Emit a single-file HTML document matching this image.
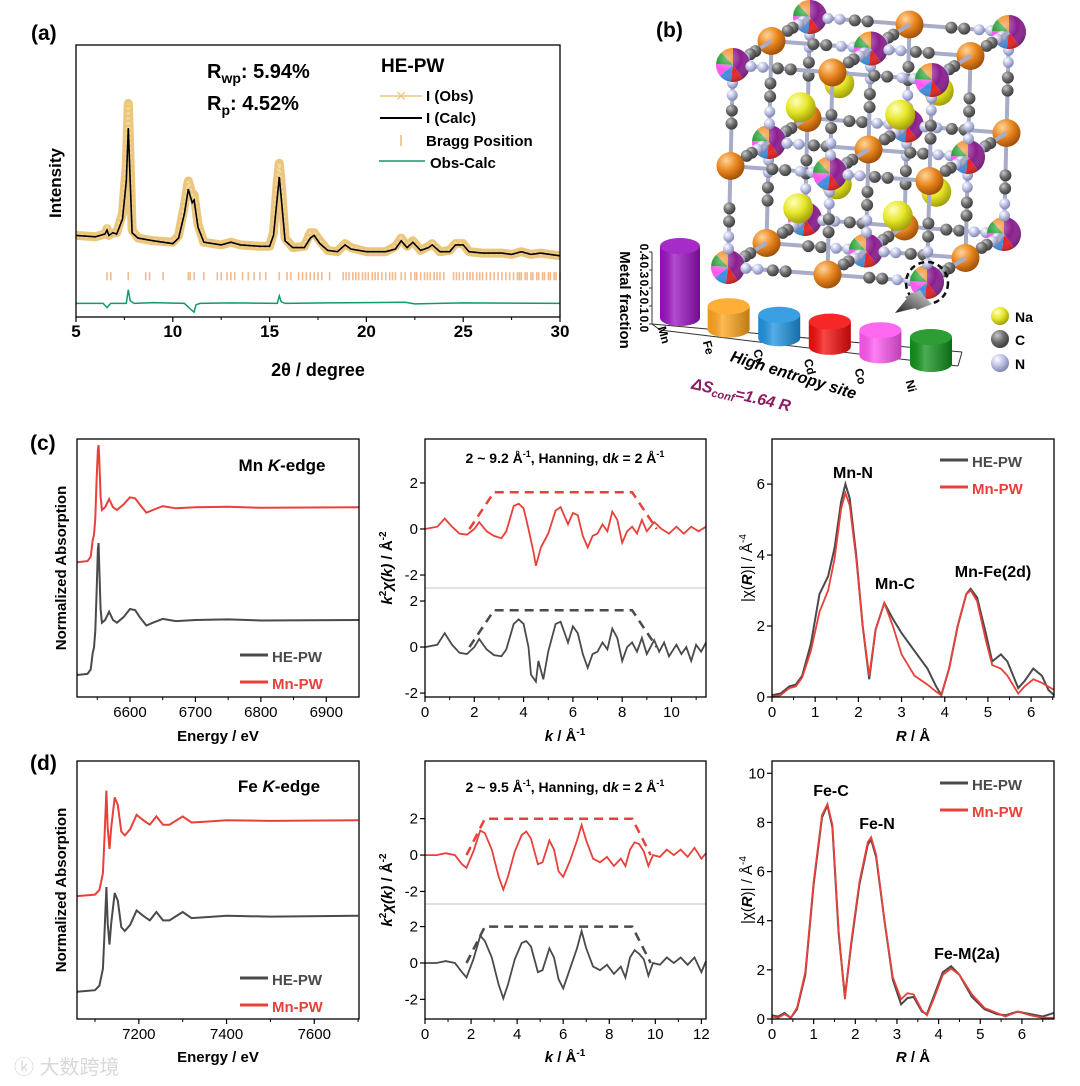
<!DOCTYPE html>
<html><head><meta charset="utf-8">
<style>
html,body{margin:0;padding:0;background:#fff;}
svg{display:block;font-family:"Liberation Sans","Noto Sans CJK SC",sans-serif;}
.b{font-weight:bold;}
.tk{font-size:15px;font-family:"Liberation Sans Narrow","Liberation Sans",sans-serif;}
</style></head>
<body>
<svg id="fig" width="1080" height="1086" viewBox="0 0 1080 1086" xmlns="http://www.w3.org/2000/svg">
<defs>
<radialGradient id="gPurple" cx="0.35" cy="0.3" r="0.75"><stop offset="0" stop-color="#d77be0"/><stop offset="0.5" stop-color="#8a1e8e"/><stop offset="1" stop-color="#4c0a50"/></radialGradient>
<radialGradient id="gOrange" cx="0.35" cy="0.3" r="0.75"><stop offset="0" stop-color="#ffd49a"/><stop offset="0.5" stop-color="#e8861e"/><stop offset="1" stop-color="#9a4c06"/></radialGradient>
<radialGradient id="gYellow" cx="0.35" cy="0.3" r="0.75"><stop offset="0" stop-color="#ffffc0"/><stop offset="0.5" stop-color="#e6e628"/><stop offset="1" stop-color="#9a9a08"/></radialGradient>
<radialGradient id="gGray" cx="0.35" cy="0.3" r="0.75"><stop offset="0" stop-color="#c8c8c8"/><stop offset="0.5" stop-color="#6e6e6e"/><stop offset="1" stop-color="#383838"/></radialGradient>
<radialGradient id="gBlue" cx="0.35" cy="0.3" r="0.75"><stop offset="0" stop-color="#ffffff"/><stop offset="0.5" stop-color="#bcc0e4"/><stop offset="1" stop-color="#7a80a8"/></radialGradient>
<radialGradient id="gShade" cx="0.35" cy="0.3" r="0.8"><stop offset="0" stop-color="#fff" stop-opacity="0.45"/><stop offset="0.5" stop-color="#fff" stop-opacity="0"/><stop offset="1" stop-color="#000" stop-opacity="0.35"/></radialGradient>
<linearGradient id="gArrow" x1="1" y1="0" x2="0" y2="1"><stop offset="0" stop-color="#e0e0e0"/><stop offset="1" stop-color="#222"/></linearGradient>
<linearGradient id="cylShade" x1="0" y1="0" x2="1" y2="0"><stop offset="0" stop-color="#000" stop-opacity="0.05"/><stop offset="0.35" stop-color="#fff" stop-opacity="0.25"/><stop offset="1" stop-color="#000" stop-opacity="0.25"/></linearGradient>
</defs>

<text x="31" y="40" class="b" font-size="21">(a)</text>
<text x="207" y="78" class="b" font-size="20">R<tspan font-size="14" dy="5">wp</tspan><tspan dy="-5">: 5.94%</tspan></text>
<text x="207" y="110" class="b" font-size="20">R<tspan font-size="14" dy="5">p</tspan><tspan dy="-5">: 4.52%</tspan></text>
<text x="381" y="72" class="b" font-size="19">HE-PW</text>
<text x="426" y="101" class="b" font-size="15">I (Obs)</text>
<text x="426" y="123" class="b" font-size="15">I (Calc)</text>
<text x="426" y="146" class="b" font-size="15">Bragg Position</text>
<text x="430" y="168" class="b" font-size="15">Obs-Calc</text>
<text transform="translate(61,183) rotate(-90)" text-anchor="middle" class="b" font-size="17">Intensity</text>
<text x="318" y="376" text-anchor="middle" class="b" font-size="18">2θ / degree</text>

<text x="656" y="37" class="b" font-size="21">(b)</text>
<text x="1015" y="322" class="b" font-size="14">Na</text>
<text x="1015" y="345" class="b" font-size="14">C</text>
<text x="1015" y="369" class="b" font-size="14">N</text>
<text transform="translate(620,300) rotate(90)" text-anchor="middle" class="b" font-size="15">Metal fraction</text>
<text transform="translate(792,380) rotate(17)" text-anchor="middle" class="b" font-size="16" font-style="italic">High entropy site</text>
<text transform="translate(740,400) rotate(13)" text-anchor="middle" class="b" font-size="16" font-style="italic" fill="#8c1a62">ΔS<tspan font-size="11" dy="3">conf</tspan><tspan dy="-3">=1.64 R</tspan></text>

<text x="30" y="450" class="b" font-size="21">(c)</text>
<text x="30" y="770" class="b" font-size="21">(d)</text>
<text x="282" y="471" text-anchor="middle" class="b" font-size="17">Mn <tspan font-style="italic">K</tspan>-edge</text>
<text x="279" y="792" text-anchor="middle" class="b" font-size="17">Fe <tspan font-style="italic">K</tspan>-edge</text>
<text x="565" y="463" text-anchor="middle" class="b" font-size="14">2 ~ 9.2 Å<tspan font-size="9" dy="-6">-1</tspan><tspan dy="6">, Hanning, d</tspan><tspan font-style="italic">k</tspan> = 2 Å<tspan font-size="9" dy="-6">-1</tspan></text>
<text x="565" y="792" text-anchor="middle" class="b" font-size="14">2 ~ 9.5 Å<tspan font-size="9" dy="-6">-1</tspan><tspan dy="6">, Hanning, d</tspan><tspan font-style="italic">k</tspan> = 2 Å<tspan font-size="9" dy="-6">-1</tspan></text>
<text transform="translate(66,568) rotate(-90)" text-anchor="middle" class="b" font-size="15">Normalized Absorption</text>
<text transform="translate(66,890) rotate(-90)" text-anchor="middle" class="b" font-size="15">Normalized Absorption</text>
<text transform="translate(392,568) rotate(-90)" text-anchor="middle" class="b" font-size="15"><tspan font-style="italic">k</tspan><tspan font-size="10" dy="-6">2</tspan><tspan dy="6" font-style="italic">χ(k)</tspan> / Å<tspan font-size="10" dy="-6">-2</tspan></text>
<text transform="translate(392,890) rotate(-90)" text-anchor="middle" class="b" font-size="15"><tspan font-style="italic">k</tspan><tspan font-size="10" dy="-6">2</tspan><tspan dy="6" font-style="italic">χ(k)</tspan> / Å<tspan font-size="10" dy="-6">-2</tspan></text>
<text transform="translate(752,568) rotate(-90)" text-anchor="middle" font-size="15">|χ(<tspan font-style="italic" font-weight="bold">R</tspan>)| / Å<tspan font-size="10" dy="-6">-4</tspan></text>
<text transform="translate(752,890) rotate(-90)" text-anchor="middle" font-size="15">|χ(<tspan font-style="italic" font-weight="bold">R</tspan>)| / Å<tspan font-size="10" dy="-6">-4</tspan></text>
<text x="218" y="741" text-anchor="middle" class="b tk">Energy / eV</text>
<text x="218" y="1062" text-anchor="middle" class="b tk">Energy / eV</text>
<text x="565" y="741" text-anchor="middle" class="b tk"><tspan font-style="italic">k</tspan> / Å<tspan font-size="10" dy="-6">-1</tspan></text>
<text x="565" y="1062" text-anchor="middle" class="b tk"><tspan font-style="italic">k</tspan> / Å<tspan font-size="10" dy="-6">-1</tspan></text>
<text x="913" y="741" text-anchor="middle" class="b tk"><tspan font-style="italic">R</tspan> / Å</text>
<text x="913" y="1062" text-anchor="middle" class="b tk"><tspan font-style="italic">R</tspan> / Å</text>
<text x="853" y="478" text-anchor="middle" class="b" font-size="16">Mn-N</text>
<text x="895" y="589" text-anchor="middle" class="b" font-size="16">Mn-C</text>
<text x="993" y="577" text-anchor="middle" class="b" font-size="16">Mn-Fe(2d)</text>
<text x="831" y="796" text-anchor="middle" class="b" font-size="16">Fe-C</text>
<text x="877" y="829" text-anchor="middle" class="b" font-size="16">Fe-N</text>
<text x="967" y="959" text-anchor="middle" class="b" font-size="16">Fe-M(2a)</text>
<text x="14" y="1074" font-size="20" fill="#d8d8d8">ⓚ 大数跨境</text>
</svg>
<script>
const xrdCalc=[[5,30],[6,29.5],[6.5,30.5],[6.6,32],[6.7,30],[6.9,31],[7.1,30.5],[7.4,36],[7.6,50],[7.7,69.5],[7.8,50],[7.9,31],[8.2,29],[9,28],[10,27],[10.3,29],[10.6,38],[10.8,47],[11.0,42],[11.1,43],[11.3,33],[11.6,27.5],[12.5,26.5],[13,27.5],[13.5,26.5],[14.5,26],[15,26],[15.2,30],[15.4,44],[15.5,51.5],[15.6,44],[15.8,28],[16.2,25.5],[16.8,25.5],[17.1,29],[17.3,30],[17.6,27],[18,24.5],[18.5,24],[18.9,26.5],[19.2,25],[20,24],[21,24],[21.5,25],[21.8,28],[22.1,25.5],[22.4,27.5],[22.8,24.5],[23.2,25.5],[23.4,26.5],[23.8,24],[24.3,24],[24.6,26.5],[25,26.5],[25.3,24],[26,23.5],[27,23.5],[27.5,23],[28,24],[28.5,23],[29,23.5],[30,22.5]];
const xrdObs=[[5,30],[6,29.5],[6.5,30.5],[6.6,32.5],[6.7,30],[6.9,31],[7.1,31],[7.4,38],[7.6,56],[7.7,78.5],[7.8,56],[7.9,32],[8.2,29],[9,28],[10,27.5],[10.3,30],[10.6,41],[10.8,50],[11.0,45],[11.1,45],[11.3,34],[11.6,27.5],[12.5,26.5],[13,27.5],[13.5,26.5],[14.5,26],[15,26],[15.2,31],[15.4,50],[15.5,56.5],[15.6,49],[15.8,29],[16.2,25.5],[16.8,26],[17.1,31],[17.3,31],[17.6,28],[18,24.5],[18.5,24],[18.9,27],[19.2,25.5],[20,24],[21,24],[21.5,26],[21.8,29],[22.1,26],[22.4,28],[22.8,24.5],[23.2,26],[23.4,27],[23.8,24],[24.3,24.5],[24.6,27],[25,27],[25.3,24],[26,23.5],[27,23.5],[27.5,23],[28,24],[28.5,23],[29,23.5],[30,22.5]];
const xrdDiff=[[5,5],[6.4,5],[6.6,3.5],[6.8,5],[7.6,5],[7.7,10],[7.8,6],[8,5],[9,5.3],[10.6,5],[10.9,3],[11.1,1.8],[11.2,4.5],[11.4,5],[13,5.2],[15.4,5],[15.5,7.8],[15.6,5.6],[15.8,5],[18,5.2],[22,5.4],[22.5,4.8],[25,5.2],[30,5]];
const braggPos=[6.6,6.8,7.7,8.6,8.8,9.5,10.8,10.9,11.1,11.6,12.3,12.5,12.8,13.0,13.2,13.6,13.9,14.2,14.5,14.8,15.5,15.9,16.1,16.5,16.7,16.9,17.1,17.3,17.5,17.7,18.1,18.8,18.95,19.1,19.3,19.45,19.6,19.8,19.95,20.1,20.3,20.45,20.6,20.8,21.0,21.2,21.35,21.5,21.8,22.0,22.3,22.5,22.6,22.8,23.0,23.15,23.3,23.5,23.65,23.8,24.0,24.5,24.65,24.8,25.0,25.2,25.35,25.5,25.7,25.85,26.0,26.2,26.4,26.6,26.8,27.0,27.2,27.4,27.6,27.8,27.9,28.0,28.2,28.3,28.5,28.6,28.8,28.9,29.1,29.2,29.4,29.5,29.7,29.8,30.0];
const xrdTicks=[5,10,15,20,25,30];

const mnEdgeHE=[[6519,0],[6535,0.02],[6540,0.1],[6543,0.4],[6545,0.5],[6547,0.8],[6549,1.5],[6551,2.3],[6552,2.4],[6553,2.0],[6555,1.2],[6557,0.95],[6562,1.0],[6568,1.15],[6574,1.0],[6580,0.95],[6590,1.05],[6600,1.2],[6608,1.18],[6615,1.05],[6625,0.9],[6635,0.95],[6650,1.02],[6670,0.98],[6700,1.0],[6750,1.01],[6800,0.99],[6950,1.0]];
const mnEdgeMn=[[6519,0],[6535,0.02],[6540,0.1],[6543,0.4],[6545,0.5],[6547,0.8],[6549,1.5],[6551,2.05],[6552,2.13],[6553,1.9],[6555,1.2],[6557,0.95],[6562,1.0],[6568,1.15],[6574,1.0],[6580,0.95],[6590,1.05],[6600,1.18],[6608,1.16],[6615,1.05],[6625,0.9],[6635,0.95],[6650,1.02],[6670,0.98],[6700,1.0],[6750,1.01],[6800,0.99],[6950,1.0]];
const mnEdgeOffsets=[0,2.05];
const mnEdgeTicks=[6600,6700,6800,6900];
const feEdgeHE=[[7059,0],[7100,0.02],[7110,0.08],[7118,0.3],[7122,0.8],[7126,1.38],[7129,0.9],[7133,0.62],[7137,0.9],[7145,1.3],[7152,1.2],[7160,0.85],[7168,0.8],[7180,0.88],[7195,1.07],[7210,1.0],[7225,0.94],[7240,1.05],[7255,0.94],[7270,0.94],[7300,1.05],[7320,0.97],[7350,0.98],[7400,1.0],[7500,0.99],[7700,1.0]];
const feEdgeMn=[[7059,0],[7100,0.02],[7110,0.08],[7118,0.3],[7122,0.8],[7126,1.39],[7129,0.9],[7133,0.62],[7137,0.9],[7145,1.3],[7152,1.2],[7160,0.85],[7168,0.8],[7180,0.88],[7195,1.07],[7210,1.0],[7225,0.94],[7240,1.05],[7255,0.94],[7270,0.94],[7300,1.05],[7320,0.97],[7350,0.98],[7400,1.0],[7500,0.99],[7700,1.0]];
const feEdgeOffsets=[0,1.26];
const feEdgeTicks=[7200,7400,7600];

const chiMnHE=[[0,0],[0.5,0.1],[0.8,0.6],[1.1,0.1],[1.4,-0.25],[1.7,-0.3],[2.0,0.0],[2.2,0.35],[2.5,-0.1],[2.8,-0.35],[3.1,-0.4],[3.3,-0.1],[3.6,1.0],[3.8,1.2],[4.0,1.0],[4.2,0.0],[4.3,-1.2],[4.5,-1.5],[4.6,-0.6],[4.8,-1.4],[5.0,-0.2],[5.3,1.0],[5.5,1.1],[5.8,0.2],[6.0,0.9],[6.2,0.6],[6.4,-0.3],[6.6,-0.9],[6.8,-0.3],[7.0,-0.2],[7.2,0.2],[7.4,-0.1],[7.6,0.8],[7.8,0.4],[8.0,-0.6],[8.2,0.0],[8.4,0.2],[8.6,-0.2],[8.8,0.4],[9.0,-0.3],[9.3,0.3],[9.5,-0.2],[9.7,0.2],[9.9,-0.4],[10.2,0.1],[10.4,-0.3],[10.6,0.0],[10.8,-0.6],[11.0,0.1],[11.2,-0.2],[11.4,0.2]];
const chiMnMn=[[0,0],[0.5,0.1],[0.8,0.45],[1.1,0.1],[1.4,-0.2],[1.7,-0.25],[2.0,0.0],[2.2,0.3],[2.5,-0.1],[2.8,-0.3],[3.1,-0.4],[3.3,-0.1],[3.6,1.0],[3.8,1.1],[4.0,0.9],[4.2,0.0],[4.4,-1.0],[4.5,-1.6],[4.7,-0.8],[5.0,-0.2],[5.3,0.8],[5.5,0.95],[5.8,0.2],[6.0,0.7],[6.2,0.6],[6.4,-0.3],[6.6,-0.8],[6.8,-0.3],[7.0,-0.2],[7.2,0.2],[7.4,-0.1],[7.6,0.75],[7.8,0.4],[8.0,-0.6],[8.2,-0.1],[8.4,0.1],[8.6,-0.2],[8.8,0.4],[9.0,-0.1],[9.3,0.3],[9.6,0.0],[9.9,-0.2],[10.2,0.1],[10.5,-0.2],[10.8,0.1],[11.1,-0.1],[11.4,0.1]];
const chiMnOffsets=[0,5.13];
const chiMnWindow=[[1.8,0],[2.8,1.6],[8.4,1.6],[9.4,0]];
const chiFeHE=[[0,0],[0.5,0.0],[0.9,0.1],[1.3,0.0],[1.6,-0.5],[1.8,-0.8],[2.1,0.2],[2.4,1.5],[2.6,1.2],[2.9,0.3],[3.2,-1.2],[3.4,-1.95],[3.6,-1.2],[3.9,0.2],[4.2,1.1],[4.4,1.2],[4.6,0.9],[4.9,-0.5],[5.1,-0.4],[5.4,0.8],[5.6,0.3],[5.8,-0.9],[6.0,-1.4],[6.3,-0.3],[6.6,0.8],[6.8,1.75],[7.0,0.8],[7.3,-0.2],[7.6,-0.4],[7.9,-0.1],[8.2,-0.6],[8.5,-0.2],[8.7,-0.8],[8.9,0.3],[9.1,0.7],[9.3,0.5],[9.5,0.2],[9.7,-0.7],[9.9,0.0],[10.2,-0.1],[10.5,0.3],[10.8,0.0],[11.1,0.3],[11.4,-0.1],[11.7,0.3],[12.0,-0.5],[12.2,0.1]];
const chiFeMn=[[0,0],[0.5,0.0],[0.9,0.1],[1.3,0.0],[1.6,-0.5],[1.8,-0.7],[2.1,0.2],[2.4,1.35],[2.6,1.2],[2.9,0.3],[3.2,-1.2],[3.4,-1.9],[3.6,-1.2],[3.9,0.2],[4.2,1.1],[4.4,1.3],[4.6,0.9],[4.9,-0.5],[5.1,-0.4],[5.4,0.8],[5.6,0.3],[5.8,-0.9],[6.0,-1.2],[6.3,-0.3],[6.6,0.8],[6.8,1.65],[7.0,0.8],[7.3,-0.2],[7.6,-0.4],[7.9,-0.1],[8.2,-0.6],[8.5,-0.2],[8.7,-0.6],[8.9,0.3],[9.1,0.7],[9.3,0.6],[9.5,0.2],[9.7,-0.6],[9.9,0.0],[10.2,-0.1],[10.5,0.3],[10.8,0.0],[11.1,0.3],[11.4,-0.1],[11.7,0.4],[12.0,-0.2],[12.2,0.1]];
const chiFeOffsets=[0,5.93];
const chiFeWindow=[[1.8,0],[2.6,2.0],[9.0,2.0],[9.8,0]];
const chiTicksY=[-2,0,2];

const ftMnHE=[[0,0.05],[0.2,0.1],[0.4,0.3],[0.55,0.35],[0.7,0.6],[0.9,1.5],[1.1,2.9],[1.3,3.4],[1.45,4.2],[1.6,5.5],[1.7,6.0],[1.8,5.6],[1.95,4.0],[2.1,2.0],[2.25,0.5],[2.4,1.9],[2.6,2.65],[2.8,2.2],[3.0,1.8],[3.3,1.3],[3.6,0.8],[3.8,0.3],[3.92,0.05],[4.1,0.8],[4.3,2.0],[4.5,2.9],[4.6,3.05],[4.75,2.8],[4.95,1.8],[5.1,1.0],[5.3,1.2],[5.45,1.0],[5.7,0.25],[5.85,0.45],[6.05,0.8],[6.25,0.6],[6.4,0.2],[6.53,0.05]];
const ftMnMn=[[0,0.0],[0.2,0.05],[0.4,0.25],[0.55,0.3],[0.7,0.55],[0.9,1.3],[1.1,2.4],[1.3,3.0],[1.45,3.9],[1.6,5.3],[1.7,5.75],[1.8,5.4],[1.95,3.9],[2.1,2.0],[2.25,0.6],[2.4,1.9],[2.6,2.65],[2.8,2.0],[3.0,1.2],[3.3,0.6],[3.6,0.35],[3.8,0.15],[3.92,0.05],[4.1,0.8],[4.3,2.0],[4.5,2.9],[4.6,3.0],[4.75,2.7],[4.95,1.6],[5.1,0.9],[5.3,0.8],[5.45,0.6],[5.7,0.1],[5.85,0.3],[6.05,0.5],[6.25,0.4],[6.53,0.2]];
const ftFeHE=[[0,0.15],[0.15,0.1],[0.3,0.25],[0.45,0.05],[0.6,0.4],[0.8,1.8],[1.0,5.5],[1.2,8.2],[1.33,8.7],[1.45,7.8],[1.6,3.5],[1.75,0.9],[1.9,3.0],[2.1,5.5],[2.3,7.1],[2.38,7.3],[2.5,6.6],[2.7,4.0],[2.9,1.6],[3.1,0.6],[3.25,0.85],[3.4,0.9],[3.6,0.3],[3.72,0.2],[3.9,1.0],[4.1,1.9],[4.3,2.15],[4.5,1.8],[4.8,0.9],[5.1,0.4],[5.4,0.2],[5.6,0.15],[5.9,0.3],[6.2,0.2],[6.5,0.1],[6.77,0.25]];
const ftFeMn=[[0,0.1],[0.15,0.05],[0.3,0.2],[0.45,0.05],[0.6,0.45],[0.8,1.9],[1.0,5.6],[1.2,8.3],[1.33,8.75],[1.45,7.9],[1.6,3.6],[1.75,0.8],[1.9,3.1],[2.1,5.6],[2.3,7.2],[2.38,7.4],[2.5,6.7],[2.7,4.0],[2.9,1.7],[3.1,0.8],[3.25,1.05],[3.4,1.0],[3.6,0.35],[3.72,0.15],[3.9,0.9],[4.1,1.8],[4.3,2.05],[4.5,1.8],[4.8,1.0],[5.1,0.45],[5.4,0.25],[5.6,0.1],[5.9,0.3],[6.2,0.15],[6.5,0.05],[6.77,0.05]];

const metalNames=['Mn','Fe','Cu','Cd','Co','Ni'];
const metalFractions=[0.40,0.13,0.13,0.14,0.14,0.15];
const metalColors=['#9a0fc0','#ffa41a','#1e93e0','#f50a0a','#ff55f0','#11911a'];
const fractionTicks=[0.0,0.1,0.2,0.3,0.4];

const NS='http://www.w3.org/2000/svg';
const svg=document.getElementById('fig');
function mk(tag,attrs,parent){const e=document.createElementNS(NS,tag);for(const k in attrs)e.setAttribute(k,attrs[k]);(parent||svg).appendChild(e);return e;}
function lin(d0,d1,r0,r1){return v=>r0+(v-d0)/(d1-d0)*(r1-r0);}
function pathOf(data,sx,sy,off){return data.map((p,i)=>(i?'L':'M')+sx(p[0]).toFixed(1)+','+sy(p[1]+(off||0)).toFixed(1)).join('');}
function frame(x0,y0,x1,y1){return mk('rect',{x:x0,y:y0,width:x1-x0,height:y1-y0,fill:'none',stroke:'#000','stroke-width':1.3});}
function xTicks(vals,minor,sx,ybot,fs,bold){
  const g=mk('g',{});
  
  
  vals.forEach(v=>{mk('line',{x1:sx(v),x2:sx(v),y1:ybot,y2:ybot+5,stroke:'#000','stroke-width':1.2},g);
    const t=mk('text',{x:sx(v),y:ybot+20,'text-anchor':'middle','font-size':fs,'font-weight':bold?'bold':'normal'},g);t.textContent=v;
    });
  minor.forEach(v=>mk('line',{x1:sx(v),x2:sx(v),y1:ybot,y2:ybot+3,stroke:'#000','stroke-width':1},g));
  return g;}
function yTicks(vals,labels,sy,xl,fs){
  const g=mk('g',{});
  
  
  vals.forEach((v,i)=>{mk('line',{x1:xl-5,x2:xl,y1:sy(v),y2:sy(v),stroke:'#000','stroke-width':1.2},g);
    const t=mk('text',{x:xl-7,y:sy(v)+5,'text-anchor':'end','font-size':fs},g);t.textContent=labels[i];
    });
  return g;}

(function(){
  const sx=lin(5,30,76,560), sy=lin(0,100,317,45);
  const obs=mk('path',{d:pathOf(xrdObs,sx,sy),fill:'none',stroke:'#ebc67c','stroke-width':9,'stroke-linejoin':'round'});
  
  const obs2=mk('path',{d:pathOf(xrdObs,sx,sy),fill:'none',stroke:'#f3dca6','stroke-width':3,'stroke-dasharray':'2 3'});
  
  const calc=mk('path',{d:pathOf(xrdCalc,sx,sy),fill:'none',stroke:'#000','stroke-width':1.6});
  
  const bg=mk('g',{});
  
  braggPos.forEach(b=>{const l=mk('line',{x1:sx(b),x2:sx(b),y1:sy(16.5),y2:sy(13.5),stroke:'#f2b98c','stroke-width':1.6},bg);
    });
  const df=mk('path',{d:pathOf(xrdDiff,sx,sy),fill:'none',stroke:'#129a6a','stroke-width':1.5});
  
  const f=frame(76,45,560,317);
  
  xTicks(xrdTicks,[7.5,12.5,17.5,22.5,27.5],sx,317,17,true);
  const l1=mk('line',{x1:380,x2:422,y1:96,y2:96,stroke:'#ebc67c','stroke-width':1.5});
  
  const m1=mk('text',{x:401,y:102,'text-anchor':'middle','font-size':18,fill:'#ebc67c'});m1.textContent='×';
  
  const l2=mk('line',{x1:380,x2:422,y1:118,y2:118,stroke:'#000','stroke-width':2});
  
  const l3=mk('line',{x1:401,x2:401,y1:135,y2:146,stroke:'#f2b98c','stroke-width':1.6});
  
  const l4=mk('line',{x1:379,x2:425,y1:161,y2:161,stroke:'#129a6a','stroke-width':1.6});
  
})();

(function(){
  const g=mk('g',{});
  
  
  const P=(i,j,k)=>[728+99.5*i+2.5*j+38.5*k, 267+7.5*i-101*j-24*k];
  const items=[];
  const isHE=(i,j,k)=>(i+j+k)%2===0;
  for(let i=0;i<3;i++)for(let j=0;j<3;j++)for(let k=0;k<3;k++){
    items.push({t:isHE(i,j,k)?'he':'fe',p:[i,j,k]});
    [[1,0,0],[0,1,0],[0,0,1]].forEach(d=>{const a=[i+d[0],j+d[1],k+d[2]]; if(a[0]>2||a[1]>2||a[2]>2)return;
      const he0=isHE(i,j,k); items.push({t:'bond',p:[i,j,k],q:a});
      const fN=he0?0.3:0.7, fC1=he0?0.45:0.55, fC2=he0?0.58:0.42;
      [['n',fN],['c',fC1],['c',fC2],['n',he0?0.18:0.82]].forEach(s=>items.push({t:s[0],p:[i+d[0]*s[1],j+d[1]*s[1],k+d[2]*s[1]]}));
    });
  }
  for(let i=0;i<2;i++)for(let j=0;j<2;j++)for(let k=0;k<2;k++) items.push({t:'na',p:[i+0.5,j+0.5,k+0.5]});
  const depth=it=>{const p=it.q?[(it.p[0]+it.q[0])/2,(it.p[1]+it.q[1])/2,(it.p[2]+it.q[2])/2]:it.p; return p[2]*2 - p[0]*0.3 + (it.t==='bond'?0.5:0);};
  items.sort((a,b)=>depth(b)-depth(a));
  const pieCols=['#8a1e8e','#e82020','#3a8ee0','#ff55f0','#1a9a2a','#f08a20'];
  const pieFr=[0.40,0.12,0.12,0.12,0.12,0.12];
  items.forEach(it=>{
    const [x,y]=P(...it.p);
    if(it.t==='bond'){const [x2,y2]=P(...it.q);
      const b=mk('line',{x1:x,y1:y,x2:x2,y2:y2,stroke:'#a8acc8','stroke-width':4},g);
      
    } else if(it.t==='n'){const c=mk('circle',{cx:x,cy:y,r:5.5,fill:'url(#gBlue)'},g);
      
    } else if(it.t==='c'){const c=mk('circle',{cx:x,cy:y,r:6,fill:'url(#gGray)'},g);
      
    } else if(it.t==='na'){const c=mk('circle',{cx:x,cy:y,r:15,fill:'url(#gYellow)'},g);
      
    } else if(it.t==='fe'){const c=mk('circle',{cx:x,cy:y,r:14,fill:'url(#gOrange)'},g);
      
    } else {
      const sg=mk('g',{},g);
      
      let a=-Math.PI/2; const r=17;
      pieFr.forEach((f,n)=>{const a2=a+f*2*Math.PI;
        const d=`M${x},${y}L${x+r*Math.cos(a)},${y+r*Math.sin(a)}A${r},${r} 0 ${f>0.5?1:0} 1 ${x+r*Math.cos(a2)},${y+r*Math.sin(a2)}Z`;
        mk('path',{d:d,fill:pieCols[n]},sg); a=a2;});
      mk('circle',{cx:x,cy:y,r:r,fill:'url(#gShade)'},sg);
    }
  });
  const hc=mk('circle',{cx:927,cy:283,r:21,fill:'none',stroke:'#111','stroke-width':2.5,'stroke-dasharray':'6 4'});
  
  const ar=mk('path',{d:'M905,297 L920,290 L924,296 L932,304 L917,310 Z M895,313 L912,292 L924,306 Z',fill:'url(#gArrow)'});
  
  [['url(#gYellow)',316,'legend-na-sphere'],['url(#gGray)',339,'legend-c-sphere'],['url(#gBlue)',363,'legend-n-sphere']].forEach(s=>{
    const c=mk('circle',{cx:1000,cy:s[1],r:9,fill:s[0]});
    });
})();

(function(){
  const g=mk('g',{});
  
  const px=0.1/18;
  const hOf=v=>v/px;
  const ax=mk('line',{x1:652,y1:324,x2:652,y2:252,stroke:'#333','stroke-width':1},g);
  
  fractionTicks.forEach(v=>{const y=324-hOf(v);
    mk('line',{x1:649,x2:652,y1:y,y2:y,stroke:'#333'},g);
    const t=mk('text',{transform:`translate(640,${y}) rotate(90)`,'text-anchor':'middle','font-size':12,'font-weight':'bold'},g);t.textContent=v.toFixed(1);
    });
  const fl=mk('path',{d:'M652,324 L962,352 M652,324 L660,330 M660,330 L958,366 M962,352 L958,366',stroke:'#333','stroke-width':1,fill:'none'},g);
  
  metalNames.forEach((nm,i)=>{
    const cx=680+i*50+(i>0?-2+i*0.6:0), w=i===0?40:42, by=318+i*8.6+(i>0?3:0), ry=8;
    const top=by-hOf(metalFractions[i]);
    const cg=mk('g',{},g);
    
    mk('path',{d:`M${cx-w/2},${top} L${cx-w/2},${by} A${w/2},${ry} 0 0 0 ${cx+w/2},${by} L${cx+w/2},${top} Z`,fill:metalColors[i]},cg);
    mk('path',{d:`M${cx-w/2},${top} L${cx-w/2},${by} A${w/2},${ry} 0 0 0 ${cx+w/2},${by} L${cx+w/2},${top} Z`,fill:'url(#cylShade)'},cg);
    mk('ellipse',{cx:cx,cy:top,rx:w/2,ry:ry,fill:metalColors[i]},cg);
    mk('ellipse',{cx:cx,cy:top,rx:w/2,ry:ry,fill:'#fff','fill-opacity':0.12},cg);
    const t=mk('text',{transform:`translate(${cx-24+(i===0?4:0)},${by+18+i*1}) rotate(75)`,'text-anchor':'middle','font-size':12,'font-weight':'bold'},g);t.textContent=nm;
    
  });
})();

function legend(x,y,t1,t2,name){
  const l1=mk('line',{x1:x,x2:x+28,y1:y,y2:y,stroke:'#4a4a4a','stroke-width':3});
  
  const a=mk('text',{x:x+32,y:y+7,'font-size':19,fill:'#4a4a4a','font-weight':'bold',class:'tk'});a.textContent=t1;
  
  const l2=mk('line',{x1:x,x2:x+28,y1:y+27,y2:y+27,stroke:'#e8403a','stroke-width':3});
  
  const b=mk('text',{x:x+32,y:y+34,'font-size':19,fill:'#e8403a','font-weight':'bold',class:'tk'});b.textContent=t2;
  
}
function xanes(x0,x1,y0,y1,emin,emax,ymin,ymax,ticks,minor,he,mn,offs,legY,name){
  const sx=lin(emin,emax,x0,x1), sy=lin(ymin,ymax,y1,y0);
  const a=mk('path',{d:pathOf(he,sx,sy,offs[0]),fill:'none',stroke:'#4a4a4a','stroke-width':2});
  
  const b=mk('path',{d:pathOf(mn,sx,sy,offs[1]),fill:'none',stroke:'#e8403a','stroke-width':2});
  
  const f=frame(x0,y0,x1,y1);
  
  xTicks(ticks,minor,sx,y1,15,false).setAttribute('class','tk');
  legend(240,legY,'HE-PW','Mn-PW',name);
}
xanes(77,359,439,697,6519,6950,-0.4,4.29,mnEdgeTicks,[6550,6650,6750,6850],mnEdgeHE,mnEdgeMn,mnEdgeOffsets,655,'xanes-mn');
xanes(77,359,761,1019,7059,7702,-0.36,3.04,feEdgeTicks,[7100,7300,7500,7700],feEdgeHE,feEdgeMn,feEdgeOffsets,978,'xanes-fe');

function kspace(x0,x1,y0,y1,kmax,ymin,ymax,he,mn,offs,win,sepY,kt,km,name){
  const sx=lin(0,kmax,x0,x1), sy=lin(ymin,ymax,y1,y0);
  const s=mk('line',{x1:x0,x2:x1,y1:sepY,y2:sepY,stroke:'#d8d8d8','stroke-width':1.5});
  
  const w1=mk('path',{d:pathOf(win,sx,sy,offs[1]),fill:'none',stroke:'#e8403a','stroke-width':2.5,'stroke-dasharray':'9 6'});
  
  const w2=mk('path',{d:pathOf(win,sx,sy,offs[0]),fill:'none',stroke:'#4a4a4a','stroke-width':2.5,'stroke-dasharray':'9 6'});
  
  const b=mk('path',{d:pathOf(mn,sx,sy,offs[1]),fill:'none',stroke:'#e8403a','stroke-width':1.8});
  
  const a=mk('path',{d:pathOf(he,sx,sy,offs[0]),fill:'none',stroke:'#4a4a4a','stroke-width':1.8});
  
  const f=frame(x0,y0,x1,y1);
  
  xTicks(kt,km,sx,y1,15,false).setAttribute('class','tk');
  const vals=[],labs=[];
  offs.forEach(o=>chiTicksY.forEach(v=>{vals.push(v+o);labs.push(v);}));
  yTicks(vals,labs,sy,x0,15).setAttribute('class','tk');
}
kspace(425,706,439,697,11.4,-2.17,9.04,chiMnHE,chiMnMn,chiMnOffsets,chiMnWindow,588,[0,2,4,6,8,10],[1,3,5,7,9,11],'kspace-mn');
kspace(425,706,761,1019,12.2,-3.08,11.1,chiFeHE,chiFeMn,chiFeOffsets,chiFeWindow,904,[0,2,4,6,8,10,12],[1,3,5,7,9,11],'kspace-fe');

function rspace(x0,x1,y0,y1,rmax,ymax,he,mn,yt,legY,name){
  const sx=lin(0,rmax,x0,x1), sy=lin(0,ymax,y1,y0);
  const a=mk('path',{d:pathOf(he,sx,sy),fill:'none',stroke:'#4a4a4a','stroke-width':2});
  
  const b=mk('path',{d:pathOf(mn,sx,sy),fill:'none',stroke:'#e8403a','stroke-width':1.8});
  
  const f=frame(x0,y0,x1,y1);
  
  xTicks([0,1,2,3,4,5,6],[0.5,1.5,2.5,3.5,4.5,5.5,6.5].filter(v=>v<rmax),sx,y1,15,false).setAttribute('class','tk');
  yTicks(yt,yt,sy,x0,15).setAttribute('class','tk');
  legend(940,legY,'HE-PW','Mn-PW',name);
}
rspace(772,1054,439,697,6.53,7.27,ftMnHE,ftMnMn,[0,2,4,6],460,'rspace-mn');
rspace(772,1054,761,1019,6.77,10.5,ftFeHE,ftFeMn,[0,2,4,6,8,10],783,'rspace-fe');
</script>
</body></html>
